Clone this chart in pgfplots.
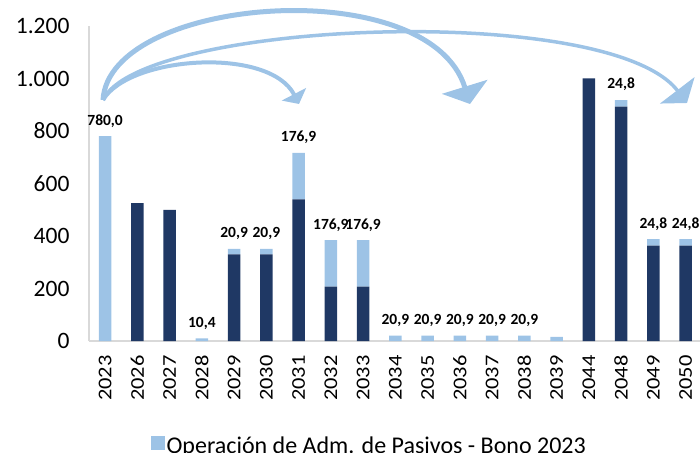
\documentclass[border=0pt]{standalone}
\usepackage{fontspec}
\setmainfont{Carlito}
\usepackage{graphicx}
\usepackage{pgfplots}
\pgfplotsset{compat=1.18}
\usetikzlibrary{arrows.meta}
\definecolor{navy}{RGB}{31,56,100}
\definecolor{lightb}{RGB}{157,195,230}
\definecolor{axgray}{RGB}{217,217,217}
\newcommand\xl[1]{\scalebox{1.15}[1]{#1}}
\begin{document}
\begin{tikzpicture}
\begin{axis}[
  at={(0,0)}, anchor=south west,
  scale only axis, width=612.75pt, height=315pt,
  ybar stacked, bar width=12.5pt,
  xmin=-0.5, xmax=18.5, ymin=0, ymax=1200,
  xtick={0,...,18},
  xticklabels={\xl{2023},\xl{2026},\xl{2027},\xl{2028},\xl{2029},\xl{2030},\xl{2031},\xl{2032},\xl{2033},\xl{2034},\xl{2035},\xl{2036},\xl{2037},\xl{2038},\xl{2039},\xl{2044},\xl{2048},\xl{2049},\xl{2050}},
  ytick={0,200,400,600,800,1000,1200},
  axis lines*=left,
  axis line style={draw=axgray, line width=1.5pt, -},
  major tick length=0pt,
  yticklabel style={font=\fontsize{23.5}{27}\selectfont},
  xticklabel style={rotate=90, anchor=east, font=\fontsize{19.5}{23}\selectfont},
  xticklabel shift={11pt},
  yticklabel shift={16pt},
  /pgf/number format/1000 sep={.},
  /pgf/number format/assume math mode=true,
  clip=false,
  legend style={at={(0.4578,-0.332)}, anchor=center, draw=none, fill=none,
    font=\fontsize{24}{28}\selectfont, inner sep=0pt},
]
\addlegendimage{legend image code/.code={\fill[lightb] (0pt,-3.5pt) rectangle (13pt,9.5pt);}}
\addlegendentry{Operación de Adm. de Pasivos - Bono 2023}
% existing debt (dark)
\addplot[fill=navy, draw=none] coordinates {
(0,0) (1,525) (2,500) (3,0) (4,330) (5,330) (6,540) (7,207) (8,207)
(9,0) (10,0) (11,0) (12,0) (13,0) (14,0) (15,1000) (16,893) (17,363) (18,363)};
% operation (light)
\addplot[fill=lightb, draw=none] coordinates {
(0,780) (1,0) (2,0) (3,10.4) (4,20.9) (5,20.9)
(6,176.9) (7,176.9) (8,176.9)
(9,20.9) (10,20.9) (11,20.9) (12,20.9) (13,20.9)
(14,16) (15,0) (16,24.8) (17,24.8) (18,24.8)};
% near-zero carrier for the data labels at the top of each stack
\addplot[fill=none, draw=none, nodes near coords, point meta=explicit symbolic,
  nodes near coords style={font=\bfseries\fontsize{15.5}{18}\selectfont, anchor=south, yshift=5.5pt, text=black}]
coordinates {
(0,0.01) [780,0] (1,0.01) [] (2,0.01) [] (3,0.01) [10,4] (4,0.01) [20,9] (5,0.01) [20,9]
(6,0.01) [176,9] (7,0.01) [176,9] (8,0.01) [176,9]
(9,0.01) [20,9] (10,0.01) [20,9] (11,0.01) [20,9] (12,0.01) [20,9] (13,0.01) [20,9]
(14,0.01) [] (15,0.01) [] (16,0.01) [24,8] (17,0.01) [24,8] (18,0.01) [24,8]};
\end{axis}
% curved annotation arrows
\draw[lightb, line width=4pt, -{Triangle[width=27pt,length=11pt]}]
  (14pt,241pt) .. controls (40pt,285pt) and (180pt,295pt) .. (210pt,237pt);
\draw[lightb, line width=3.5pt, -{Triangle[width=43pt,length=16pt]}]
  (14pt,241pt) .. controls (50pt,320pt) and (520pt,340pt) .. (598pt,238pt);
\draw[lightb, line width=5pt, -{Triangle[width=47pt,length=18pt]}]
  (14pt,241pt) .. controls (20pt,345pt) and (340pt,370pt) .. (381pt,237pt);
\pgfresetboundingbox
\path[use as bounding box] (-89pt,-111pt) rectangle (611pt,341pt);
\end{tikzpicture}
\end{document}
